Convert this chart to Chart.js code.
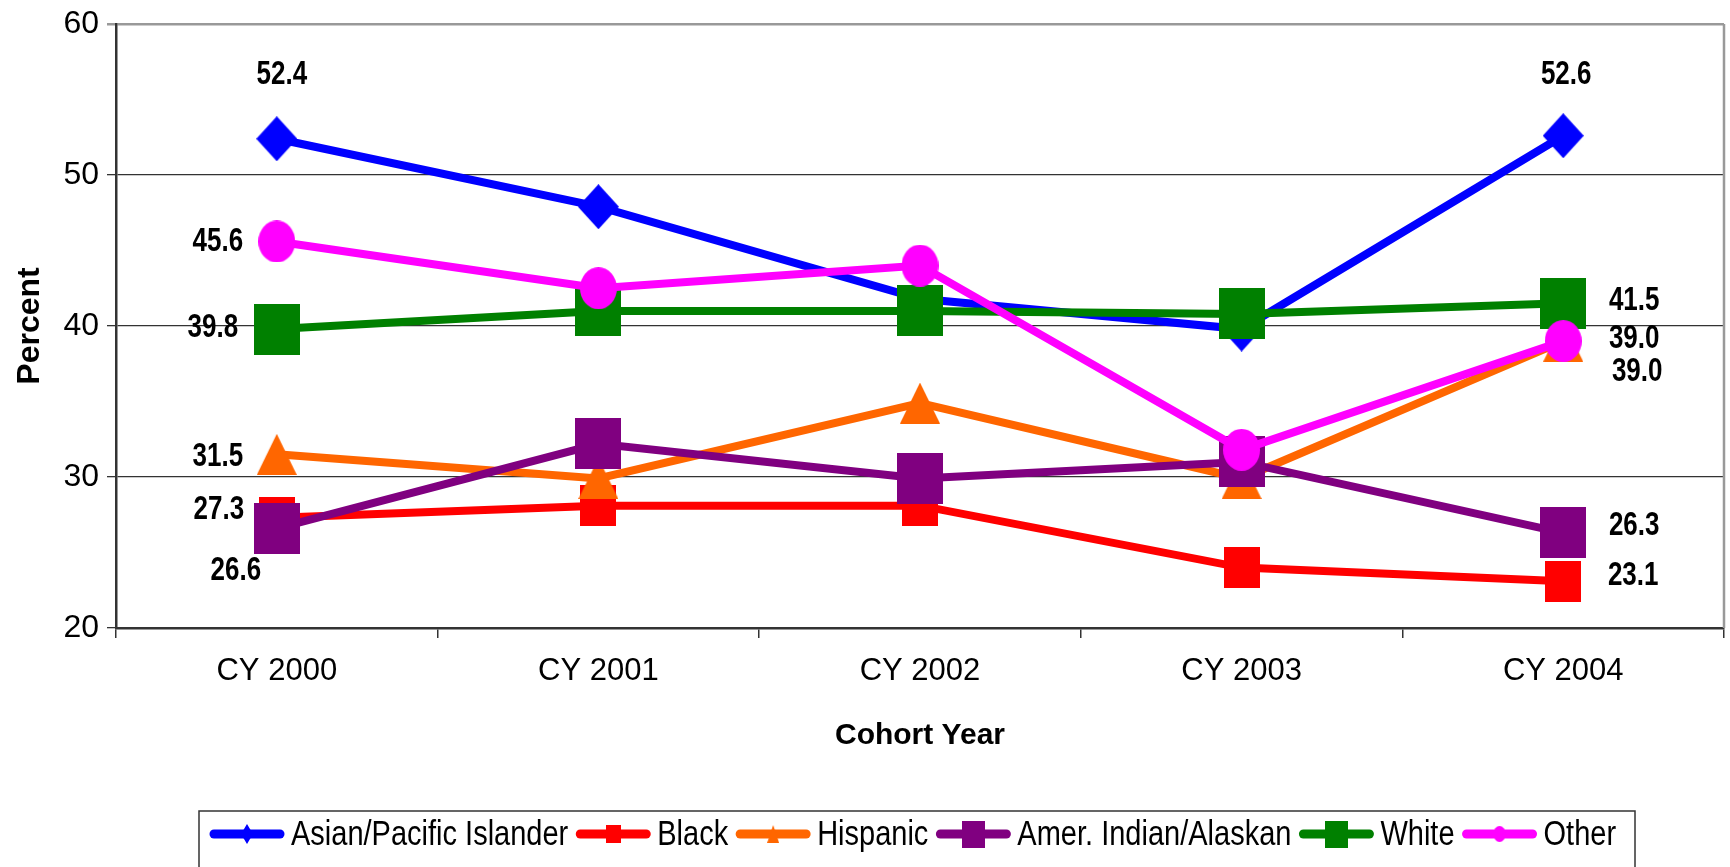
<!DOCTYPE html>
<html>
<head>
<meta charset="utf-8">
<script src="https://cdn.jsdelivr.net/npm/chart.js@4.4.0/dist/chart.umd.min.js"></script>
<style>
    html, body { margin: 0; padding: 0; background: #fff; }
    #wrap { width: 1730px; height: 867px; }
</style>
</head>
<body>
<div id="wrap"><canvas id="cohortChart" width="1730" height="867"></canvas></div>
<script>
// Chart data
const cohortYears = ['CY 2000', 'CY 2001', 'CY 2002', 'CY 2003', 'CY 2004'];
const seriesNames = ['Asian/Pacific Islander', 'Black', 'Hispanic', 'Amer. Indian/Alaskan', 'White', 'Other'];
const asianValues = [52.4, 47.9, 41.8, 39.8, 52.6];
const blackValues = [27.3, 28.1, 28.1, 24.0, 23.1];
const hispanicValues = [31.5, 29.9, 34.9, 29.9, 39.0];
const amerIndianValues = [26.6, 32.2, 29.9, 31.0, 26.3];
const whiteValues = [39.8, 41.0, 41.0, 40.8, 41.5];
const otherValues = [45.6, 42.5, 44.0, 31.8, 39.0];
const yTicks = [20, 30, 40, 50, 60];

// Styles
const FONT = "'Liberation Sans', Arial, Helvetica, sans-serif";
const seriesColors = ['#0000FF', '#FF0000', '#FF6600', '#800080', '#008000', '#FF00FF'];
const markerShapes = ['diamond', 'square', 'triangle', 'square', 'square', 'ellipse'];
const markerSizes = [[41, 45], [36, 41], [40, 41], [46, 51], [46, 51], [37, 42]];
const legendMarkerSizes = [[12, 20], [15, 18], [12, 18], [23, 27], [23, 27], [12, 16]];
// offsets of the value labels at first and last point [dx, dy]
const firstLabelOffset = [[5, -64], [-58, -8], [-59, 2], [-41, 42], [-64, -1], [-59, 0]];
const lastLabelOffset = [[3, -61], [70, -6], [74, 31], [71, -7], [71, -3], [71, -2]];
const TEXT_STRETCH = 1.3; // original text looks taller than wide

const allValues = [asianValues, blackValues, hispanicValues, amerIndianValues, whiteValues, otherValues];

// Excel style markers: shape centred on its bounding box, a bit taller than wide
function makeMarker(shape, w, h, color) {
    const c = document.createElement('canvas');
    c.width = w;
    c.height = h;
    const g = c.getContext('2d');
    g.fillStyle = color;
    g.beginPath();
    if (shape === 'diamond') {
        g.moveTo(w / 2, 0);
        g.lineTo(w, h / 2);
        g.lineTo(w / 2, h);
        g.lineTo(0, h / 2);
        g.closePath();
    } else if (shape === 'triangle') {
        g.moveTo(w / 2, 0);
        g.lineTo(w, h);
        g.lineTo(0, h);
        g.closePath();
    } else if (shape === 'ellipse') {
        g.ellipse(w / 2, h / 2, w / 2, h / 2, 0, 0, Math.PI * 2);
    } else {
        g.rect(0, 0, w, h);
    }
    g.fill();
    return c;
}

const chartMarkers = markerShapes.map((s, i) => makeMarker(s, markerSizes[i][0], markerSizes[i][1], seriesColors[i]));
const legendMarkers = markerShapes.map((s, i) => makeMarker(s, legendMarkerSizes[i][0], legendMarkerSizes[i][1], seriesColors[i]));

const datasets = seriesNames.map((name, i) => ({
    label: name,
    data: allValues[i],
    borderColor: seriesColors[i],
    backgroundColor: seriesColors[i],
    borderWidth: 8,
    pointStyle: chartMarkers[i],
    pointRadius: 20,
    tension: 0,
    clip: false,
    order: seriesNames.length - 1 - i
}));

// text drawn a bit taller than wide, centred on (x, y)
function stretchedText(ctx, text, x, y, stretch) {
    ctx.save();
    ctx.translate(x, y);
    ctx.scale(1, stretch);
    ctx.fillText(text, 0, 0);
    ctx.restore();
}

// Draws the value labels on the first and last point
const valueLabelPlugin = {
    id: 'valueLabels',
    afterDatasetsDraw(chart) {
        const ctx = chart.ctx;
        ctx.save();
        ctx.font = 'bold 26px ' + FONT;
        ctx.fillStyle = '#000';
        ctx.textAlign = 'center';
        ctx.textBaseline = 'middle';
        chart.data.datasets.forEach((ds, i) => {
            const meta = chart.getDatasetMeta(i);
            const first = meta.data[0];
            const last = meta.data[meta.data.length - 1];
            stretchedText(ctx, ds.data[0].toFixed(1), first.x + firstLabelOffset[i][0], first.y + firstLabelOffset[i][1], TEXT_STRETCH);
            stretchedText(ctx, ds.data[ds.data.length - 1].toFixed(1), last.x + lastLabelOffset[i][0], last.y + lastLabelOffset[i][1], TEXT_STRETCH);
        });
        ctx.restore();
    }
};

// Right border of plot area
const framePlugin = {
    id: 'frame',
    beforeDatasetsDraw(chart) {
        const {ctx, chartArea} = chart;
        ctx.save();
        ctx.strokeStyle = '#999';
        ctx.lineWidth = 2.5;
        ctx.beginPath();
        ctx.moveTo(chartArea.right, chartArea.top);
        ctx.lineTo(chartArea.right, chartArea.bottom);
        ctx.stroke();
        ctx.restore();
    }
};

// Legend in a box at the bottom, line + marker + text
const boxLegendPlugin = {
    id: 'boxLegend',
    afterDraw(chart) {
        const ctx = chart.ctx;
        const boxLeft = 199, boxRight = 1635, boxTop = 811;
        const cy = 834;
        ctx.save();
        ctx.strokeStyle = '#333';
        ctx.lineWidth = 1.5;
        ctx.strokeRect(boxLeft, boxTop, boxRight - boxLeft, 80);
        ctx.font = '29px ' + FONT;
        ctx.textBaseline = 'middle';
        ctx.textAlign = 'left';
        let x = boxLeft + 11;
        chart.data.datasets.forEach((ds, i) => {
            ctx.strokeStyle = seriesColors[i];
            ctx.lineWidth = 9;
            ctx.lineCap = 'round';
            ctx.beginPath();
            ctx.moveTo(x + 4, cy);
            ctx.lineTo(x + 70, cy);
            ctx.stroke();
            const m = legendMarkers[i];
            ctx.drawImage(m, x + 37 - m.width / 2, cy - m.height / 2);
            ctx.fillStyle = '#000';
            stretchedText(ctx, ds.label, x + 81, cy + 1, 1.2);
            x += 81 + ctx.measureText(ds.label).width + 8;
        });
        ctx.restore();
    }
};

const ctx = document.getElementById('cohortChart').getContext('2d');
const cohortChart = new Chart(ctx, {
    type: 'line',
    data: {
        labels: cohortYears,
        datasets: datasets
    },
    options: {
        responsive: false,
        animation: false,
        events: [],
        layout: {
            autoPadding: false,
            padding: { left: 11, right: 6, top: 24, bottom: 113 }
        },
        plugins: {
            legend: { display: false },
            tooltip: { enabled: false }
        },
        scales: {
            x: {
                offset: true,
                grid: {
                    offset: true,
                    drawOnChartArea: false,
                    drawTicks: true,
                    tickLength: 10,
                    color: '#333',
                    lineWidth: 1.5
                },
                border: { display: true, color: '#333', width: 2.5 },
                ticks: {
                    color: '#000',
                    font: { family: FONT, size: 31 },
                    padding: 15,
                    maxRotation: 0
                },
                title: {
                    display: true,
                    text: 'Cohort Year',
                    color: '#000',
                    font: { family: FONT, size: 30, weight: 'bold' },
                    padding: { top: 0, bottom: 0 }
                },
                afterFit(scale) {
                    scale.height = 126;
                    scale.paddingLeft = 0;
                    scale.paddingRight = 0;
                }
            },
            y: {
                min: yTicks[0],
                max: yTicks[yTicks.length - 1],
                afterBuildTicks(scale) {
                    scale.ticks = yTicks.map(v => ({ value: v }));
                },
                grid: {
                    color: c => (c.tick && c.tick.value === 60 ? '#999' : '#333'),
                    lineWidth: c => (c.tick && c.tick.value === 60 ? 2.5 : 1.3),
                    drawTicks: true,
                    tickLength: 9
                },
                border: { display: true, color: '#333', width: 2.5 },
                ticks: {
                    color: '#000',
                    font: { family: FONT, size: 32 },
                    padding: 8
                },
                title: {
                    display: true,
                    text: 'Percent',
                    color: '#000',
                    font: { family: FONT, size: 32, weight: 'bold' },
                    padding: { top: 0, bottom: 0 }
                },
                afterFit(scale) {
                    scale.width = 105;
                    scale.paddingTop = 0;
                    scale.paddingBottom = 0;
                }
            }
        }
    },
    plugins: [framePlugin, valueLabelPlugin, boxLegendPlugin]
});
</script>
</body>
</html>
